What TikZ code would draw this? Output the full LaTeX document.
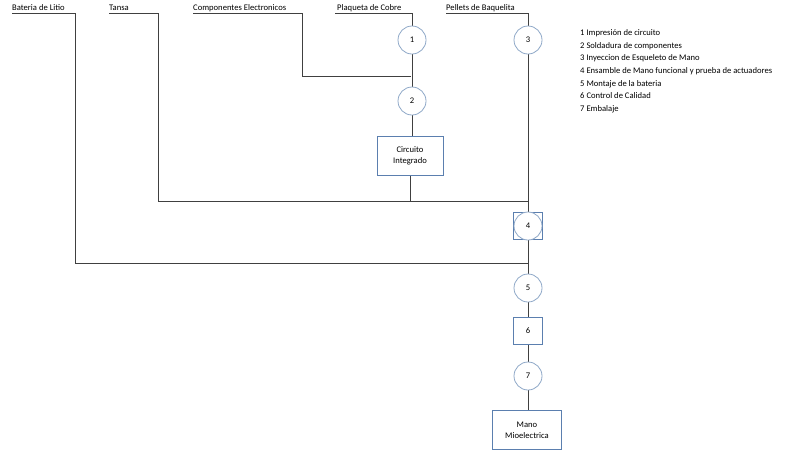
\documentclass[tikz,border=0pt]{standalone}
\usepackage{fontspec}
\setmainfont{Carlito}
\definecolor{boxc}{HTML}{5B7FAF}
\definecolor{circc}{HTML}{8FA8C8}
\begin{document}
\begin{tikzpicture}[x=1pt,y=-1pt,font=\fontsize{8.6}{11}\selectfont,
  ln/.style={draw=black!75,line width=0.9pt},
  circ/.style={circle,draw=circc,line width=0.8pt,fill=white,minimum size=28pt,inner sep=0pt},
  bx/.style={rectangle,draw=boxc,line width=0.8pt,fill=white,inner sep=0pt,align=center},
  lab/.style={anchor=base west,inner sep=0pt}]
\useasboundingbox (0,0) rectangle (800,451);
% top labels
\node[lab] (tb) at (12,10) {Bateria de Litio};
\node[lab] (tt) at (109,10) {Tansa};
\node[lab] (tc) at (193,10) {Componentes Electronicos};
\node[lab] (tp) at (337,10) {Plaqueta de Cobre};
\node[lab] (tpe) at (446,10) {Pellets de Baquelita};
\coordinate (b0) at (12,13); \coordinate (b1) at (75,13);
\coordinate (t0) at (109,13); \coordinate (t1) at (158,13);
\coordinate (c0) at (193,13); \coordinate (c1) at (302,13);
\coordinate (p0) at (335,13); \coordinate (p1) at (412,13);
\coordinate (q0) at (446,13); \coordinate (q1) at (528,13);
% nodes
\node[bx,minimum width=66pt,minimum height=39pt] (ci) at (410,156) {Circuito\\Integrado};
\node[bx,minimum width=29pt,minimum height=27pt] (b4) at (528,226) {};
\node[bx,minimum width=29pt,minimum height=27pt] (n6) at (528,331) {6};
\node[bx,minimum width=69pt,minimum height=39pt] (mano) at (527,430) {Mano\\Mioelectrica};
% lines
\draw[ln] (b0) -- (b1) -- (75,263) -- (528,263);
\draw[ln] (t0) -- (t1) -- (158,201) -- (528,201);
\draw[ln] (c0) -- (c1) -- (302,76) -- (411,76);
\draw[ln] (p0) -- (p1) -- (ci.north -| p1);
\draw[ln] (ci.south) -- (410,201);
\draw[ln] (q0) -- (q1) -- (b4.north);
\draw[ln] (b4.south) -- (n6.north);
\draw[ln] (n6.south) -- (mano.north -| n6);
% circles
\node[circ] (n1) at (412,40) {1};
\node[circ] (n2) at (412,101) {2};
\node[circ] (n3) at (528,40) {3};
\node[bx,minimum width=29pt,minimum height=27pt] (b4b) at (528,226) {};
\node[circ] (n4) at (528,226) {4};
\node[circ] (n5) at (528,288) {5};
\node[circ] (n7) at (528,376) {7};
\node[bx,minimum width=29pt,minimum height=27pt] at (n6) {6};
\node[bx,minimum width=69pt,minimum height=39pt] at (mano) {Mano\\Mioelectrica};
% legend
\node[lab] (l1) at (580,35) {1 Impresión de circuito};
\node[lab] (l2) at (580,48) {2 Soldadura de componentes};
\node[lab] (l3) at (580,60) {3 Inyeccion de Esqueleto de Mano};
\node[lab] (l4) at (580,73) {4 Ensamble de Mano funcional y prueba de actuadores};
\node[lab] (l5) at (580,86) {5 Montaje de la bateria};
\node[lab] (l6) at (580,98) {6 Control de Calidad};
\node[lab] (l7) at (580,111) {7 Embalaje};
\end{tikzpicture}
\end{document}
